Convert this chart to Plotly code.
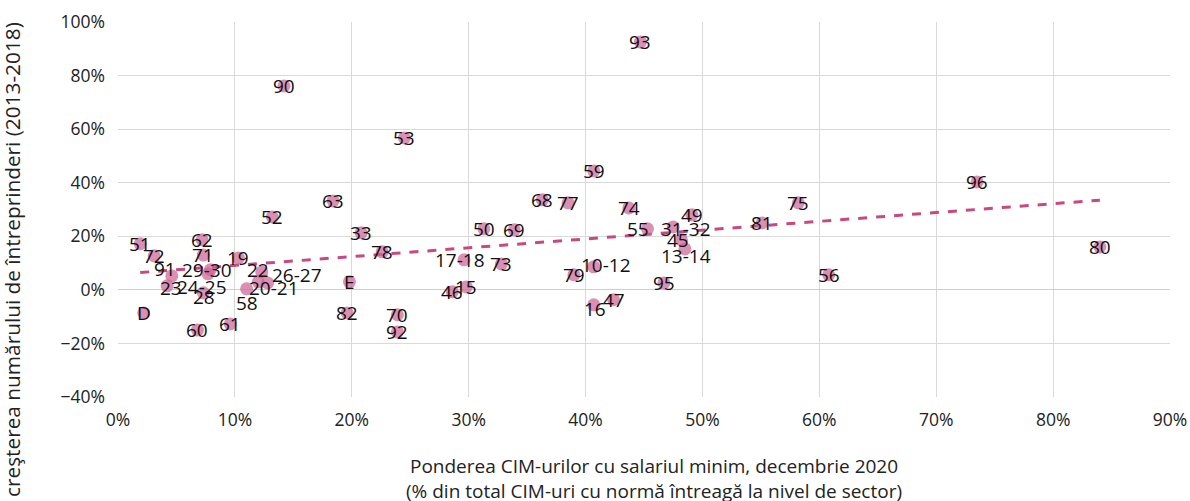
import numpy as np
import plotly.graph_objects as go

# Sector codes
labels = ["D", "51", "72", "91", "23", "62", "71", "29-30", "24-25", "28",
          "19", "22", "58", "20-21", "26-27", "60", "61", "52", "90", "63",
          "E", "82", "33", "78", "70", "92", "53", "17-18", "46", "15",
          "50", "69", "73", "68", "77", "59", "74", "55", "31-32", "49",
          "45", "13-14", "10-12", "79", "95", "16", "47", "93", "81", "75",
          "56", "96", "80"]

# Share of minimum-wage contracts, Dec 2020 (%)
share_min_wage = [2.2, 1.9, 3.1, 4.6, 4.2, 7.2, 7.3, 7.9, 7.7, 7.3,
                  10.3, 12.3, 11.0, 12.0, 12.8, 6.8, 9.6, 13.2, 14.2, 18.4,
                  19.8, 19.6, 20.8, 22.6, 23.9, 23.9, 24.5, 29.6, 28.6, 29.8,
                  31.3, 33.9, 32.8, 36.3, 38.5, 40.7, 43.7, 45.3, 47.5, 49.1,
                  48.2, 48.5, 40.7, 39.0, 46.7, 40.7, 42.4, 44.7, 55.1, 58.2,
                  60.8, 73.5, 84.0]

# Growth in number of enterprises 2013-2018 (%)
enterprise_growth = [-8.6, 17.2, 12.7, 5.2, 1.5, 18.7, 13.0, 7.5, 6.0, -1.1,
                     11.9, 6.7, 0.4, 3.0, 2.6, -15.0, -12.7, 27.2, 76.1, 33.2,
                     3.0, -8.6, 21.3, 14.2, -9.3, -15.7, 56.7, 11.2, -0.7, 1.1,
                     22.8, 22.4, 9.7, 33.6, 32.5, 44.4, 30.6, 22.8, 23.5, 28.0,
                     18.7, 15.3, 8.6, 5.6, 2.6, -5.6, -3.7, 92.5, 25.0, 32.5,
                     5.6, 40.3, 16.0]

# Label displacements (pixels) for crowded labels
label_shift = {"91": (-7, 7), "24-25": (-6, -13), "58": (0, -14), "20-21": (16, -6),
               "26-27": (29, 8), "31-32": (13, -2), "55": (-10, 0), "13-14": (1, -7),
               "10-12": (12, 2), "16": (1, -4), "22": (-4, 2), "23": (4, -2),
               "29-30": (-3, 0), "17-18": (-4, 0), "45": (-3, 0), "28": (1, -4)}

x = np.array(share_min_wage) / 100
y = np.array(enterprise_growth) / 100

FONT = "Open Sans"
PINK = "rgba(205,100,150,0.72)"
LINE = "#C8497F"

fig = go.Figure()

# Linear trend line fitted to the data
slope, intercept = np.polyfit(x, y, 1)
tx = np.array([x.min(), x.max()])
fig.add_trace(go.Scatter(x=tx, y=slope * tx + intercept, mode="lines",
                         line=dict(color=LINE, width=3, dash="dash"),
                         hoverinfo="skip", showlegend=False))

fig.add_trace(go.Scatter(x=x, y=y, mode="markers",
                         marker=dict(size=13, color=PINK, line=dict(width=0)),
                         text=labels, showlegend=False))

for lab, xi, yi in zip(labels, x, y):
    dx, dy = label_shift.get(lab, (0, 0))
    fig.add_annotation(x=xi, y=yi, text=lab, showarrow=False,
                       xshift=dx, yshift=dy,
                       font=dict(family=FONT, size=19, color="#111111"))

# Axis titles
fig.add_annotation(xref="paper", yref="paper", x=0.5095, y=-0.217,
                   text="Ponderea CIM-urilor cu salariul minim, decembrie 2020<br>(% din total CIM-uri cu normă întreagă la nivel de sector)",
                   showarrow=False, xanchor="center", yanchor="middle", align="center",
                   font=dict(family=FONT, size=19, color="#222222"))
fig.add_annotation(xref="paper", yref="paper", x=-0.1008, y=0.368,
                   text="creşterea numărului de întreprinderi (2013-2018)",
                   textangle=-90, showarrow=False, xanchor="center", yanchor="middle",
                   font=dict(family=FONT, size=20.8, color="#222222"))

fig.update_xaxes(range=[0, 0.9], dtick=0.1, tickformat=".0%", automargin=False,
                 showgrid=True, gridcolor="#D9D9D9", gridwidth=1,
                 zeroline=False, showline=False, ticks="", ticklabelstandoff=10,
                 tickfont=dict(family=FONT, size=17.5, color="#222222"))
fig.update_yaxes(range=[-0.4, 1.0], dtick=0.2, tickformat=".0%", automargin=False,
                 showgrid=True, gridcolor="#D9D9D9", gridwidth=1,
                 zeroline=True, zerolinecolor="#CFCFCF", zerolinewidth=1,
                 showline=False, ticks="", ticklabelstandoff=12,
                 tickfont=dict(family=FONT, size=17.5, color="#222222"))

fig.update_layout(width=1190, height=501,
                  margin=dict(l=118, r=20, t=22, b=104, autoexpand=False),
                  plot_bgcolor="white", paper_bgcolor="white",
                  font=dict(family=FONT))

fig.write_html("out.html", config={"displayModeBar": False},
               post_script="document.body.style.margin='0';")
